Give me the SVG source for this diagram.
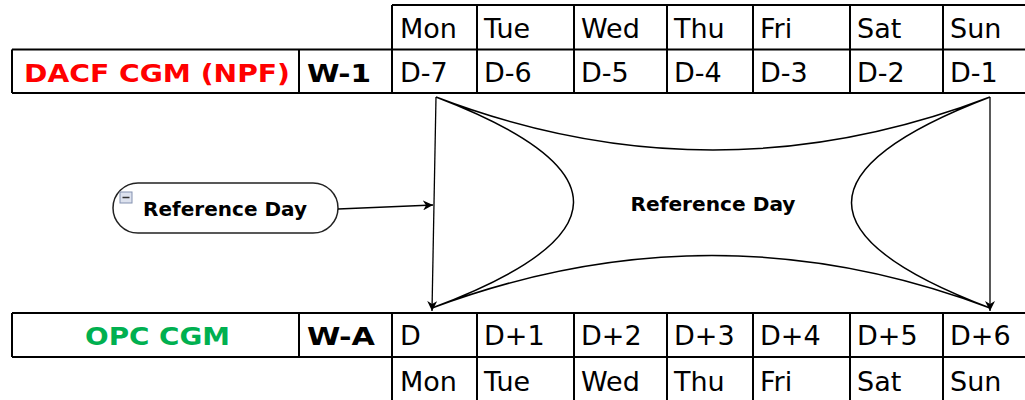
<svg xmlns="http://www.w3.org/2000/svg" width="1025" height="400" viewBox="0 0 1025 400">
  <style>
    .grid { stroke: #000; stroke-width: 2; fill: none; }
    .cell { font-family: "DejaVu Sans", Verdana, sans-serif; font-size: 27px; fill: #000; }
    .lbl { font-family: "DejaVu Sans", Verdana, sans-serif; font-size: 25px; font-weight: bold; }
    .node-text { font-family: "DejaVu Sans", Verdana, sans-serif; font-size: 19px; font-weight: bold; fill: #000; }
    .conn { stroke: #000; stroke-width: 1.3; fill: none; }
  </style>
  <defs>
    <marker id="arrow" viewBox="0 0 10 10" refX="10" refY="5" markerWidth="10" markerHeight="10" markerUnits="userSpaceOnUse" orient="auto">
      <path d="M0,0 L10,5 L0,10 L3,5 Z" fill="#000"/>
    </marker>
  </defs>
  <rect width="1025" height="400" fill="#fff"/>

  <!-- Week-ahead table (top) -->
  <g id="table-w1">
    <path class="grid" d="M392,5 H1026 M12,49.5 H1026 M12,93 H1026
      M12,49.5 V93 M299,49.5 V93 M392,5 V93 M477,5 V93 M574,5 V93 M667,5 V93 M753,5 V93 M850,5 V93 M943,5 V93"/>
    <text class="lbl" x="24" y="82" fill="#ff0000" textLength="266" lengthAdjust="spacingAndGlyphs">DACF CGM (NPF)</text>
    <text class="lbl" x="307" y="82" fill="#000" textLength="64" lengthAdjust="spacingAndGlyphs">W-1</text>
    <g class="cell">
      <text x="400" y="38">Mon</text><text x="484" y="38">Tue</text><text x="581" y="38">Wed</text>
      <text x="674" y="38">Thu</text><text x="760" y="38">Fri</text><text x="857" y="38">Sat</text><text x="950" y="38">Sun</text>
      <text x="400" y="82">D-7</text><text x="484" y="82">D-6</text><text x="581" y="82">D-5</text>
      <text x="674" y="82">D-4</text><text x="760" y="82">D-3</text><text x="857" y="82">D-2</text><text x="950" y="82">D-1</text>
    </g>
  </g>

  <!-- Operational table (bottom) -->
  <g id="table-wa">
    <path class="grid" d="M12,313 H1026 M12,357 H1026
      M12,313 V357 M299,313 V357 M392,313 V401 M477,313 V401 M574,313 V401 M667,313 V401 M753,313 V401 M850,313 V401 M943,313 V401"/>
    <text class="lbl" x="85" y="345" fill="#00b050" textLength="145" lengthAdjust="spacingAndGlyphs">OPC CGM</text>
    <text class="lbl" x="307" y="345" fill="#000" textLength="68" lengthAdjust="spacingAndGlyphs">W-A</text>
    <g class="cell">
      <text x="400" y="345">D</text><text x="484" y="345">D+1</text><text x="581" y="345">D+2</text>
      <text x="674" y="345">D+3</text><text x="760" y="345">D+4</text><text x="857" y="345">D+5</text><text x="950" y="345">D+6</text>
      <text x="400" y="391">Mon</text><text x="484" y="391">Tue</text><text x="581" y="391">Wed</text>
      <text x="674" y="391">Thu</text><text x="760" y="391">Fri</text><text x="857" y="391">Sat</text><text x="950" y="391">Sun</text>
    </g>
  </g>

  <!-- Concave reference-day shape -->
  <g id="ref-day-shape">
    <path d="M436,97 Q713,203 990,97 Q713,203 990,308 Q713,203 432,308 Q713,203 436,97 Z" fill="#fff" stroke="#000" stroke-width="1.5"/>
    <text class="node-text" x="713" y="211" text-anchor="middle" textLength="165" lengthAdjust="spacingAndGlyphs">Reference Day</text>
  </g>

  <!-- Reference Day topic node -->
  <g id="ref-day-node">
    <rect x="113" y="183" width="225" height="50" rx="25" fill="#fff" stroke="#222" stroke-width="1.5"/>
    <rect x="120" y="192" width="12" height="11" fill="#dde2ee" stroke="#8391b0" stroke-width="1"/>
    <line x1="122.5" y1="197.5" x2="129.5" y2="197.5" stroke="#333" stroke-width="1.5"/>
    <text class="node-text" x="143" y="216" textLength="164" lengthAdjust="spacingAndGlyphs">Reference Day</text>
  </g>

  <!-- Connectors -->
  <g id="connectors">
    <line class="conn" x1="338" y1="209" x2="433" y2="205" marker-end="url(#arrow)"/>
    <line class="conn" x1="436" y1="97" x2="432" y2="311" marker-end="url(#arrow)"/>
    <line class="conn" x1="990" y1="97" x2="990" y2="311" marker-end="url(#arrow)"/>
  </g>
</svg>
